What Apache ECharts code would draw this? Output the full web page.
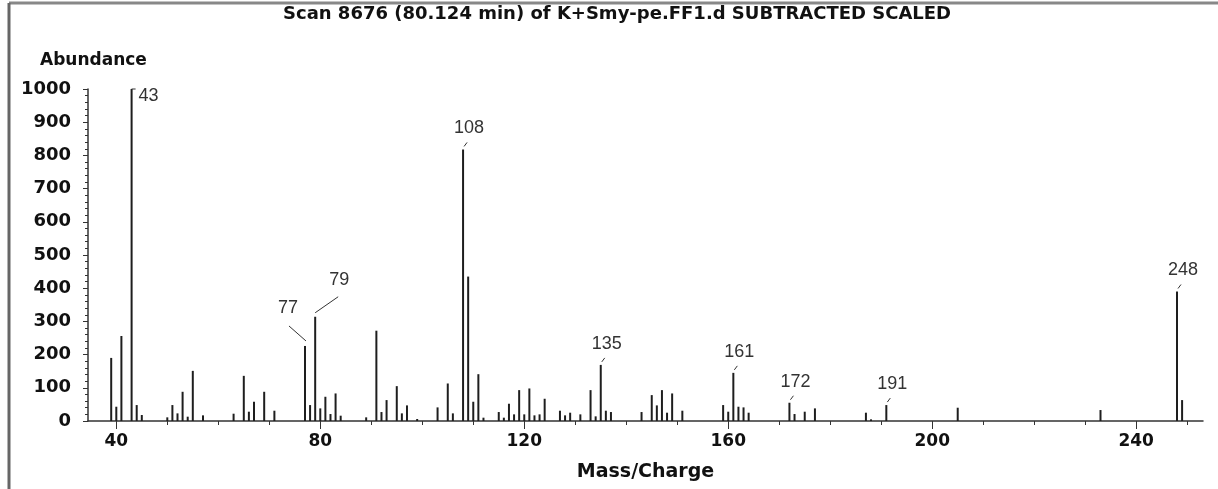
<!DOCTYPE html>
<html><head><meta charset="utf-8">
<script src="https://cdn.jsdelivr.net/npm/echarts@6/dist/echarts.min.js"></script>
<style>html,body{margin:0;padding:0;background:#fff}#c{width:1218px;height:489px}</style>
</head><body><div id="c"></div>
<script>
const titleText = 'Scan 8676 (80.124 min) of K+Smy-pe.FF1.d SUBTRACTED SCALED';
const yAxisTitle = 'Abundance';
const xAxisTitle = 'Mass/Charge';
const masses = [39,40,41,43,44,45,50,51,52,53,54,55,57,63,65,66,67,69,71,77,78,79,80,81,82,83,84,89,91,92,93,95,96,97,99,103,105,106,108,109,110,111,112,115,116,117,118,119,120,121,122,123,124,127,128,129,131,133,134,135,136,137,143,145,146,147,148,149,151,159,160,161,162,163,164,172,173,175,177,187,188,191,205,233,248,249];
const abundances = [190,43,256,1000,48,18,11,48,23,88,13,151,17,22,136,28,58,88,31,226,48,314,38,73,21,83,16,11,272,27,63,105,23,47,6,41,113,23,818,435,58,141,10,27,10,52,20,93,20,98,17,20,67,31,17,25,20,93,14,169,31,27,27,78,47,93,25,83,31,48,28,145,43,41,25,55,21,28,38,25,5,48,40,33,390,63];
const labeledMasses = [43,77,79,108,135,161,172,191,248];
const xMajorTicks = [40,80,120,160,200,240];
const xMinorTicks = [40,50,60,70,80,90,100,110,120,130,140,150,160,170,180,190,200,210,220,230,240,250];

// label placement (pixel offsets from peak top): leader line [x1,y1,x2,y2], text [x,y]
const labelPlacement = {
  43: {l:[0,0,4,0], t:[7,7], align:'left'},
  77: {l:[1,-5,-16,-20], t:[-17,-38], align:'center'},
  79: {l:[0,-4,23,-20], t:[24,-37], align:'center'},
  def: {l:[1,-3,4,-7], t:[6,-21], align:'center'}
};

const chart = echarts.init(document.getElementById('c'), null, {renderer:'canvas'});
const boldFont = 'DejaVu Sans';
chart.setOption({
  animation: false,
  backgroundColor: '#fff',
  title: [
    {text: titleText, left: 278, top: 0, textStyle:{fontFamily: boldFont, fontWeight:'bold', fontSize:18, color:'#111'}},
    {text: yAxisTitle, left: 35, top: 47, textStyle:{fontFamily: boldFont, fontWeight:'bold', fontSize:17, color:'#111'}}
  ],
  graphic: [
    {type:'line', shape:{x1:9, y1:3, x2:1218, y2:3}, style:{stroke:'#888', lineWidth:3}},
    {type:'line', shape:{x1:9, y1:3, x2:9, y2:489}, style:{stroke:'#666', lineWidth:3}}
  ],
  grid: {left: 88, right: 15, top: 89, bottom: 68, containLabel:false},
  xAxis: [
    {type:'value', min:34.45, max:253.1, position:'bottom',
     name: xAxisTitle, nameLocation:'middle', nameGap: 42,
     nameTextStyle:{fontFamily: boldFont, fontWeight:'bold', fontSize:19, color:'#111'},
     axisLine:{show:true, lineStyle:{color:'#333', width:1.5}},
     axisTick:{show:true, customValues: xMajorTicks, length:8, inside:false, lineStyle:{color:'#333'}},
     axisLabel:{show:true, customValues: xMajorTicks, margin:12, fontFamily: boldFont, fontWeight:'bold', fontSize:17, color:'#111'},
     splitLine:{show:false}},
    {type:'value', min:34.45, max:253.1, position:'bottom',
     axisLine:{show:false},
     axisTick:{show:true, customValues: xMinorTicks, length:4, inside:false, lineStyle:{color:'#333'}},
     axisLabel:{show:false}, splitLine:{show:false}}
  ],
  yAxis: {type:'value', min:0, max:1000, interval:100,
    axisLine:{show:true, lineStyle:{color:'#333', width:1.5}},
    axisTick:{show:true, length:5, inside:false, lineStyle:{color:'#333'}},
    minorTick:{show:true, splitNumber:5, length:3, lineStyle:{color:'#333'}},
    axisLabel:{margin:17, formatter: v => String(v), fontFamily: boldFont, fontWeight:'bold', fontSize:18, color:'#111'},
    splitLine:{show:false}},
  series: [
    {type:'bar', xAxisIndex:0, barWidth:2, itemStyle:{color:'#1e1e1e'},
     data: masses.map((m,i)=>[m, abundances[i]])},
    {type:'custom', xAxisIndex:0, clip:false, z:10,
     data: labeledMasses.map(m=>[m, abundances[masses.indexOf(m)]]),
     renderItem: function(params, api){
       const m = api.value(0);
       const p = api.coord([m, api.value(1)]);
       const o = labelPlacement[m] || labelPlacement.def;
       return {type:'group', children:[
         {type:'line', shape:{x1:p[0]+o.l[0], y1:p[1]+o.l[1], x2:p[0]+o.l[2], y2:p[1]+o.l[3]}, style:{stroke:'#333', lineWidth:1}},
         {type:'text', style:{text:String(m), x:p[0]+o.t[0], y:p[1]+o.t[1], align:o.align, verticalAlign:'middle', font:'18px "Liberation Sans"', fill:'#333'}}
       ]};
     }}
  ]
});
</script></body></html>
